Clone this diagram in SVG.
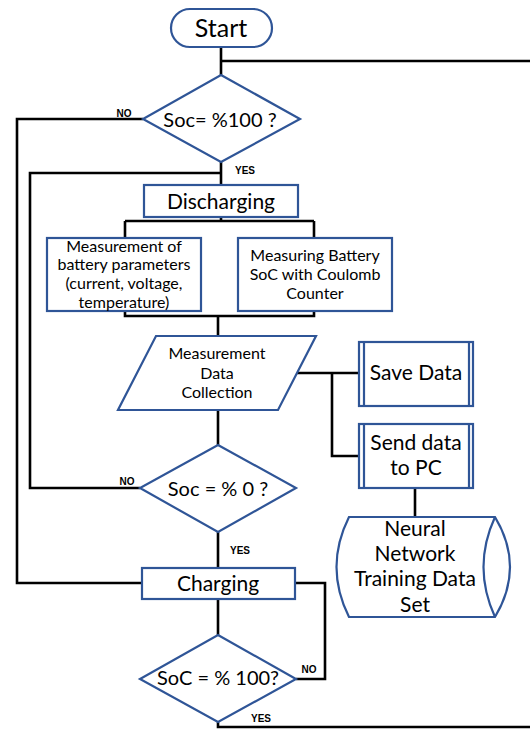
<svg xmlns="http://www.w3.org/2000/svg" width="530" height="729" viewBox="0 0 530 729">
<style>
.s{fill:#fff;stroke:#2F5597;stroke-width:2.2}
.c{fill:none;stroke:#000;stroke-width:2.6}
text{font-family:Lato,"Liberation Sans",sans-serif;fill:#000;text-anchor:middle}
.st{font-size:25px}
.m{font-size:21px}
.d{font-size:20px}
.sm{font-size:16px}
.lab{font-size:10px;font-weight:bold;font-family:"Liberation Sans",sans-serif}
</style>
<rect width="530" height="729" fill="#fff"/>
<g id="connectors">
<path class="c" d="M221,47 V75 M221,61 H530"/>
<path class="c" d="M143,119 H17 V583 H142"/>
<path class="c" d="M221,162 V185"/>
<path class="c" d="M221,173 H30 V488 H140"/>
<path class="c" d="M221,217 V221 M125,221 H314 M125,221 V238 M314,221 V238"/>
<path class="c" d="M125,311 V316 H314 V311 M218,316 V336"/>
<path class="c" d="M296,373 H359 M332,373 V456 H359"/>
<path class="c" d="M415,488 V517"/>
<path class="c" d="M218,410 V445"/>
<path class="c" d="M218,532 V568"/>
<path class="c" d="M295,583 H325 V679 H296"/>
<path class="c" d="M218,599 V635"/>
<path class="c" d="M218,722 V727 H530"/>
</g>
<g id="labels">
<text class="lab" x="124" y="117">NO</text>
<text class="lab" x="245" y="174">YES</text>
<text class="lab" x="127" y="485">NO</text>
<text class="lab" x="240" y="554">YES</text>
<text class="lab" x="309" y="673">NO</text>
<text class="lab" x="261" y="722">YES</text>
</g>
<g id="start">
<rect class="s" x="171" y="9" width="101" height="38" rx="19"/>
<text class="st" x="221" y="37">Start</text>
</g>
<g id="dec1">
<polygon class="s" points="221,75 300,119 221,162 143,119"/>
<text class="d" x="220" y="127">Soc= %100 ?</text>
</g>
<g id="discharging">
<rect class="s" x="144" y="185" width="154" height="32"/>
<text class="m" x="221" y="209">Discharging</text>
</g>
<g id="measure">
<rect class="s" x="47" y="238" width="154" height="73"/>
<text class="sm"><tspan x="124" y="252">Measurement of</tspan><tspan x="124" y="270">battery parameters</tspan><tspan x="124" y="289">(current, voltage,</tspan><tspan x="124" y="308">temperature)</tspan></text>
</g>
<g id="coulomb">
<rect class="s" x="238" y="238" width="154" height="73"/>
<text class="sm"><tspan x="315" y="261">Measuring Battery</tspan><tspan x="315" y="280">SoC with Coulomb</tspan><tspan x="315" y="299">Counter</tspan></text>
</g>
<g id="collection">
<polygon class="s" points="156,336 316,336 278,410 118,410"/>
<text class="sm"><tspan x="217" y="359">Measurement</tspan><tspan x="217" y="379">Data</tspan><tspan x="217" y="398">Collection</tspan></text>
</g>
<g id="save">
<rect class="s" x="359" y="342" width="114" height="64"/>
<path class="s" d="M364,342 V406 M469,342 V406"/>
<text class="m" x="416" y="380">Save Data</text>
</g>
<g id="send">
<rect class="s" x="359" y="424" width="114" height="64"/>
<path class="s" d="M364,424 V488 M469,424 V488"/>
<text class="m" x="416" y="450">Send data</text>
<text class="m" x="416" y="475">to PC</text>
</g>
<g id="nn">
<path class="s" d="M349,517 H495 Q525,567 495,617 H349 Q324,567 349,517 Z"/>
<path class="s" d="M495,517 Q472,567 495,617"/>
<text class="m"><tspan x="415" y="536">Neural</tspan><tspan x="415" y="561">Network</tspan><tspan x="415" y="586">Training Data</tspan><tspan x="415" y="612">Set</tspan></text>
</g>
<g id="dec2">
<polygon class="s" points="218,445 296,488 218,532 140,488"/>
<text class="d" x="218" y="496">Soc = % 0 ?</text>
</g>
<g id="charging">
<rect class="s" x="142" y="568" width="153" height="31"/>
<text class="m" x="218" y="591">Charging</text>
</g>
<g id="dec3">
<polygon class="s" points="218,635 296,679 218,722 140,679"/>
<text class="d" x="218" y="685">SoC = % 100?</text>
</g>
</svg>
